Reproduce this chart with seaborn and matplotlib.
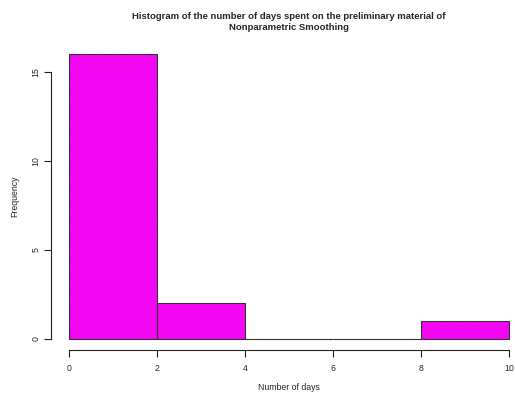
import matplotlib
matplotlib.use("Agg")
import matplotlib.pyplot as plt
import seaborn as sns
import numpy as np

# Data
bin_edges = [0, 2, 4, 6, 8, 10]
bin_centers = [1, 3, 5, 7, 9]
counts = [16, 2, 0, 0, 1]
x_ticks = [0, 2, 4, 6, 8, 10]
y_ticks = [0, 5, 10, 15]
title = "Histogram of the number of days spent on the preliminary material of\nNonparametric Smoothing"
xlabel = "Number of days"
ylabel = "Frequency"

sns.set_style("white")
plt.rcParams['font.family'] = ['Liberation Sans', 'DejaVu Sans']
plt.rcParams['hatch.linewidth'] = 0.45

fig = plt.figure(figsize=(5.15, 3.96), dpi=100)
ax = fig.add_axes([51.4/515, 45.6/396, (526.6-51.4)/515, (350.4-42.8)/396])

# filled, hatched bars
sns.histplot(x=bin_centers, weights=counts, bins=bin_edges, ax=ax,
             color="#ff00ff", alpha=1, edgecolor="#b828b8", linewidth=0,
             hatch="//////")
# outlines
sns.histplot(x=bin_centers, weights=counts, bins=bin_edges, ax=ax,
             fill=False, color="#333333", edgecolor="#333333", linewidth=0.8)

ax.set_xlim(-0.4, 10.4)
ax.set_ylim(-0.64, 16.64)
ax.set_xticks(x_ticks)
ax.set_yticks(y_ticks)
ax.set_xticklabels([str(t) for t in x_ticks], fontsize=6.3)
ax.set_yticklabels([str(t) for t in y_ticks], fontsize=6.3, rotation=90, va='center')

for s in ['top', 'right']:
    ax.spines[s].set_visible(False)
ax.spines['left'].set_bounds(0, 15)
ax.spines['bottom'].set_bounds(0, 10)
for s in ['left', 'bottom']:
    ax.spines[s].set_color('#222222')
    ax.spines[s].set_linewidth(0.8)
ax.tick_params(axis='x', which='both', direction='out', length=5, width=0.8,
               color='#222222', pad=5, bottom=True)
ax.tick_params(axis='y', which='both', direction='out', length=5, width=0.8,
               color='#222222', pad=3, left=True)

ax.set_xlabel(xlabel, fontsize=6.3, labelpad=7)
ax.set_ylabel(ylabel, fontsize=6.3, labelpad=9)
ax.set_title(title, fontsize=6.8, fontweight='bold', pad=9, linespacing=1.3)

fig.savefig("out.png", dpi=100)
